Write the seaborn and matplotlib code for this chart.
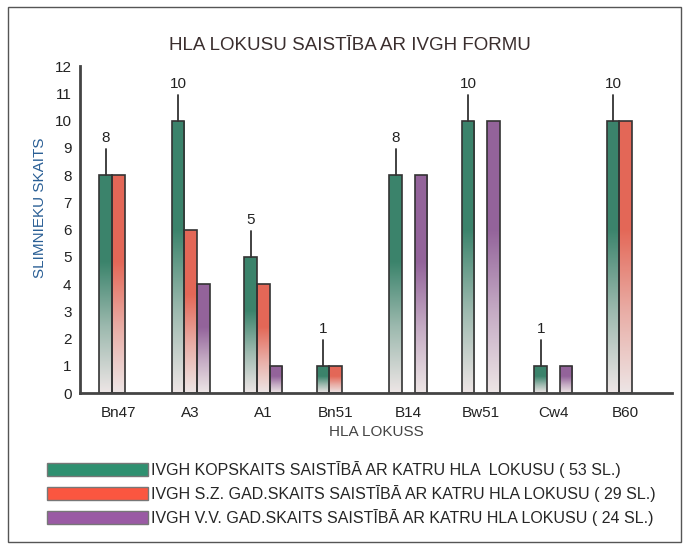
import numpy as np
import pandas as pd
import matplotlib
matplotlib.use("Agg")
import matplotlib.pyplot as plt
import seaborn as sns
from matplotlib.colors import LinearSegmentedColormap
from matplotlib.patches import Patch, Rectangle

categories = ["Bn47", "A3", "A1", "Bn51", "B14", "Bw51", "Cw4", "B60"]
total_counts = [8, 10, 5, 1, 8, 10, 1, 10]
sz_counts = [8, 6, 4, 1, 0, 0, 0, 10]
vv_counts = [0, 4, 1, 0, 8, 10, 1, 0]
series_names = [
    "IVGH KOPSKAITS SAISTĪBĀ AR KATRU HLA  LOKUSU ( 53 SL.)",
    "IVGH S.Z. GAD.SKAITS SAISTĪBĀ AR KATRU HLA LOKUSU ( 29 SL.)",
    "IVGH V.V. GAD.SKAITS SAISTĪBĀ AR KATRU HLA LOKUSU ( 24 SL.)",
]
colors = ["#2f9070", "#fb5640", "#9a5aa4"]

df = pd.DataFrame({
    "lokuss": categories * 3,
    "skaits": total_counts + sz_counts + vv_counts,
    "serija": [series_names[0]] * 8 + [series_names[1]] * 8 + [series_names[2]] * 8,
})

sns.set_style("white")
plt.rcParams["font.family"] = ["Liberation Sans", "DejaVu Sans"]

fig = plt.figure(figsize=(6.88, 5.5), dpi=100)
ax = fig.add_axes([0.116, 0.285, 0.861, 0.595])

sns.barplot(data=df, x="lokuss", y="skaits", hue="serija", order=categories,
            hue_order=series_names, palette=colors, width=0.52, ax=ax,
            edgecolor="#333333", linewidth=1.2, legend=False, errorbar=None)

# gradient fill for bars
base = np.array([0.93, 0.90, 0.90])
for patch in list(ax.patches):
    h = patch.get_height()
    if h <= 0:
        patch.set_visible(False)
        continue
    fc = np.array(patch.get_facecolor()[:3])
    cmap = LinearSegmentedColormap.from_list(
        "g", [(0.0, tuple(base)), (0.3, tuple(0.45 * fc + 0.55 * base)),
              (0.6, tuple(fc)), (1.0, tuple(fc))])
    x0 = patch.get_x()
    w = patch.get_width()
    grad = np.linspace(0, 1, 256).reshape(-1, 1)
    im = ax.imshow(grad, cmap=cmap, origin="lower", aspect="auto",
                   extent=[x0, x0 + w, 0, h], zorder=patch.get_zorder() - 0.1)
    im.set_clip_path(patch)
    patch.set_facecolor("none")

ax.set_xlim(-0.53, 7.64)
ax.set_ylim(0, 12)
ax.set_yticks(range(0, 13))
ax.tick_params(axis="both", labelsize=11, colors="#222222", length=3, direction="in")
ax.tick_params(axis="y", pad=6)
ax.tick_params(axis="x", pad=9)

# annotations above total bars
green_offset = -0.52 / 3
for i, v in enumerate(total_counts):
    xc = i + green_offset
    ax.plot([xc, xc], [v, v + 0.95], color="#333333", lw=1.3, zorder=5)
    ax.text(xc, v + 1.1, str(v), ha="center", va="bottom", fontsize=11, color="#222222")

for side in ["top", "right"]:
    ax.spines[side].set_visible(False)
for side in ["left", "bottom"]:
    ax.spines[side].set_color("#444444")
    ax.spines[side].set_linewidth(2)

ax.set_xlabel("HLA LOKUSS", fontsize=11, color="#444444", labelpad=4)
ax.set_ylabel("SLIMNIEKU SKAITS", fontsize=11, color="#2a5f95")
ax.yaxis.set_label_coords(-0.055, 0.566)
fig.text(0.508, 0.918, "HLA LOKUSU SAISTĪBA AR IVGH FORMU", ha="center", va="center",
         fontsize=13.5, color="#3a2e2e")

handles = [Patch(facecolor=c, edgecolor="#777777", lw=1) for c in colors]
fig.legend(handles, series_names, loc="upper left", bbox_to_anchor=(0.069, 0.162),
           frameon=False, fontsize=11.5, handlelength=6.3, handleheight=0.85,
           labelspacing=0.45, handletextpad=0.2, borderpad=0, borderaxespad=0)

fig.add_artist(Rectangle((0.012, 0.015), 0.978, 0.972, transform=fig.transFigure,
                         fill=False, edgecolor="#555555", lw=1))

fig.savefig("out.png", dpi=100)
